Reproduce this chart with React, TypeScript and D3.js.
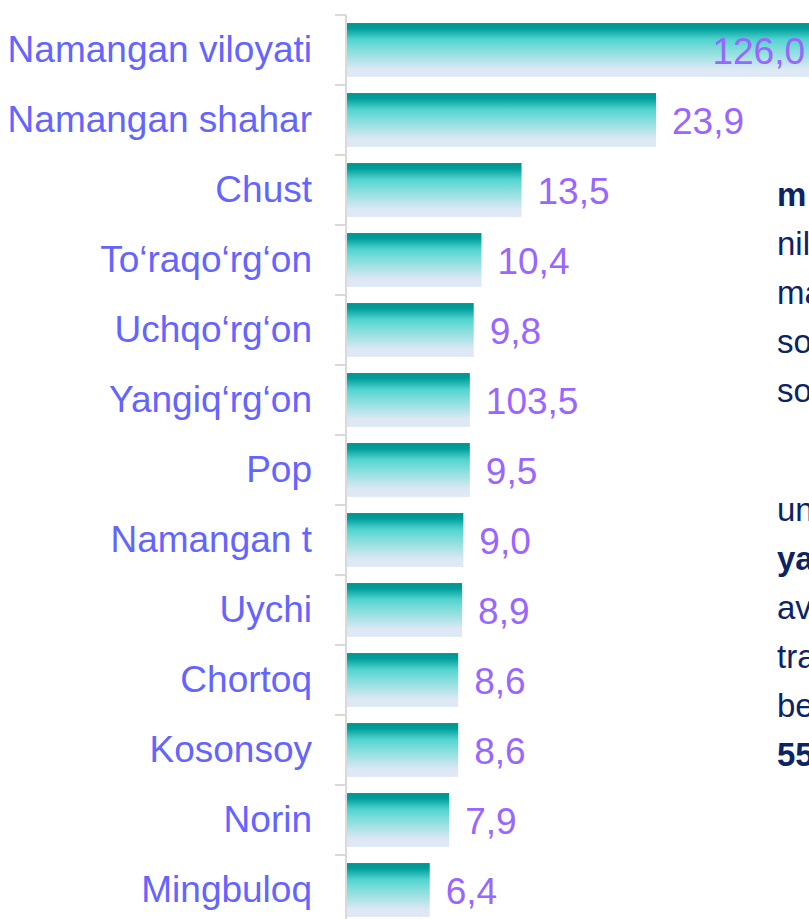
import { useRef, useEffect } from 'react';
import * as d3 from 'd3';

const categories = [
  'Namangan viloyati',
  'Namangan shahar',
  'Chust',
  'To‘raqo‘rg‘on',
  'Uchqo‘rg‘on',
  'Yangiq‘rg‘on',
  'Pop',
  'Namangan t',
  'Uychi',
  'Chortoq',
  'Kosonsoy',
  'Norin',
  'Mingbuloq',
];

// bar lengths as drawn
const values = [126.0, 23.9, 13.5, 10.4, 9.8, 9.5, 9.5, 9.0, 8.9, 8.6, 8.6, 7.9, 6.4];

// labels as printed on the chart
const valueLabels = ['126,0', '23,9', '13,5', '10,4', '9,8', '103,5', '9,5', '9,0', '8,9', '8,6', '8,6', '7,9', '6,4'];

// cut-off text on the right side of the slide
const sideLines = [
  { text: 'm', bold: true },
  { text: 'nil', bold: false },
  { text: 'ma', bold: false },
  { text: 'so', bold: false },
  { text: 'so', bold: false },
];
const sideLines2 = [
  { text: 'un', bold: false },
  { text: 'ya', bold: true },
  { text: 'av', bold: false },
  { text: 'tra', bold: false },
  { text: 'be', bold: false },
  { text: '55', bold: true },
];

const W = 809;
const H = 919;
const FONT = 'Arial, "Liberation Sans", sans-serif';

export default function App() {
  const svgRef = useRef<SVGSVGElement>(null);

  useEffect(() => {
    if (!svgRef.current) return;
    document.body.style.margin = '0';

    const svg = d3.select(svgRef.current);
    svg.selectAll('*').remove();

    const x0 = 347;
    const top = 15;
    const step = 70;

    const x = d3.scaleLinear().domain([0, 126]).range([x0, x0 + 126 * 12.93]);
    const y = d3
      .scaleBand<string>()
      .domain(categories)
      .range([top, top + step * categories.length])
      .paddingInner(0.23)
      .paddingOuter(0.115);

    const data = categories.map((c, i) => ({ c, v: values[i], label: valueLabels[i] }));

    const defs = svg.append('defs');
    const grad = defs
      .append('linearGradient')
      .attr('id', 'barGrad')
      .attr('x1', 0)
      .attr('y1', 0)
      .attr('x2', 0)
      .attr('y2', 1);
    [
      [0, '#009490'],
      [0.1, '#009e9a'],
      [0.3, '#4fd3cf'],
      [0.45, '#78dcd9'],
      [0.65, '#a9e2e6'],
      [0.85, '#dce8f4'],
      [1, '#dfe9f5'],
    ].forEach(([o, c]) => grad.append('stop').attr('offset', o as number).attr('stop-color', c as string));

    // Bars
    svg
      .append('g')
      .selectAll('rect')
      .data(data)
      .enter()
      .append('rect')
      .attr('x', x(0))
      .attr('y', (d) => y(d.c)!)
      .attr('width', (d) => x(d.v) - x(0))
      .attr('height', y.bandwidth())
      .attr('fill', 'url(#barGrad)');

    // Axis line + ticks
    const half = (y.step() - y.bandwidth()) / 2;
    const tickYs = categories.map((c) => y(c)! - half).concat([y(categories[categories.length - 1])! + y.bandwidth() + half]);
    const axis = svg.append('g');
    axis
      .append('line')
      .attr('x1', 346)
      .attr('x2', 346)
      .attr('y1', tickYs[0])
      .attr('y2', tickYs[tickYs.length - 1])
      .attr('stroke', '#d9d9d9')
      .attr('stroke-width', 2);
    axis
      .selectAll('.tick')
      .data(tickYs)
      .enter()
      .append('line')
      .attr('x1', 335)
      .attr('x2', 346)
      .attr('y1', (d) => d)
      .attr('y2', (d) => d)
      .attr('stroke', '#d9d9d9')
      .attr('stroke-width', 2);

    // Category labels
    svg
      .append('g')
      .selectAll('text')
      .data(data)
      .enter()
      .append('text')
      .attr('x', 312)
      .attr('y', (d) => y(d.c)! + y.bandwidth() / 2 + 12)
      .attr('text-anchor', 'end')
      .attr('fill', '#6464ff')
      .attr('font-family', FONT)
      .attr('font-size', '37px')
      .text((d) => d.c);

    // Value labels
    svg
      .append('g')
      .selectAll('text')
      .data(data)
      .enter()
      .append('text')
      .attr('x', (d) => Math.min(x(d.v) + 16, W - 4))
      .attr('y', (d) => y(d.c)! + y.bandwidth() / 2 + 14)
      .attr('text-anchor', (d) => (x(d.v) + 16 > W - 4 ? 'end' : 'start'))
      .attr('fill', '#9966ff')
      .attr('font-family', FONT)
      .attr('font-size', '37px')
      .text((d) => d.label);

    // Cut-off side text
    const side = svg.append('g').attr('font-family', FONT).attr('font-size', '33px').attr('fill', '#0b2466');
    side
      .selectAll('.s1')
      .data(sideLines)
      .enter()
      .append('text')
      .attr('x', 777)
      .attr('y', (_, i) => 206 + i * 49)
      .attr('font-weight', (d) => (d.bold ? 'bold' : 'normal'))
      .text((d) => d.text);
    side
      .selectAll('.s2')
      .data(sideLines2)
      .enter()
      .append('text')
      .attr('x', 777)
      .attr('y', (_, i) => 521 + i * 49)
      .attr('font-weight', (d) => (d.bold ? 'bold' : 'normal'))
      .text((d) => d.text);
  }, []);

  return (
    <div style={{ width: W, height: H, overflow: 'hidden', background: '#fff' }}>
      <svg ref={svgRef} width={W} height={H} style={{ display: 'block' }} />
    </div>
  );
}
